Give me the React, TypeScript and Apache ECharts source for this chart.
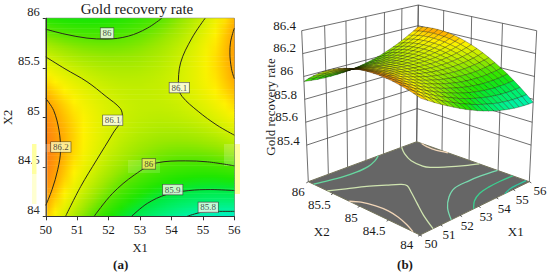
import React, { useEffect, useRef } from "react";
import * as echarts from "echarts";

const FONT = '"Liberation Serif", serif';

const titleText = "Gold recovery rate";
const x1Ticks = [50, 51, 52, 53, 54, 55, 56];
const x2Ticks = [84, 84.5, 85, 85.5, 86];
const zTicks = [85.4, 85.6, 85.8, 86, 86.2, 86.4];

// response grid, x1 = 50..56 (step 0.3) across, x2 = 86..84 (step 0.1) down
const x1Grid = [50, 50.3, 50.6, 50.9, 51.2, 51.5, 51.8, 52.1, 52.4, 52.7, 53, 53.3, 53.6, 53.9, 54.2, 54.5, 54.8, 55.1, 55.4, 55.7, 56];
const x2Grid = [86, 85.9, 85.8, 85.7, 85.6, 85.5, 85.4, 85.3, 85.2, 85.1, 85, 84.9, 84.8, 84.7, 84.6, 84.5, 84.4, 84.3, 84.2, 84.1, 84];
const zRows = [
  [85.956, 85.949, 85.943, 85.94, 85.939, 85.94, 85.942, 85.947, 85.954, 85.962, 85.973, 85.986, 86.0, 86.017, 86.036, 86.057, 86.079, 86.104, 86.131, 86.159, 86.19],
  [85.998, 85.989, 85.982, 85.977, 85.974, 85.973, 85.974, 85.977, 85.982, 85.99, 85.999, 86.01, 86.023, 86.038, 86.055, 86.074, 86.095, 86.118, 86.143, 86.171, 86.2],
  [86.036, 86.026, 86.017, 86.011, 86.006, 86.004, 86.003, 86.005, 86.008, 86.014, 86.021, 86.031, 86.042, 86.056, 86.071, 86.089, 86.108, 86.13, 86.153, 86.179, 86.206],
  [86.071, 86.059, 86.049, 86.041, 86.035, 86.031, 86.029, 86.029, 86.03, 86.034, 86.04, 86.048, 86.058, 86.07, 86.084, 86.1, 86.118, 86.138, 86.159, 86.183, 86.209],
  [86.103, 86.09, 86.078, 86.068, 86.06, 86.055, 86.051, 86.049, 86.05, 86.052, 86.056, 86.063, 86.071, 86.081, 86.093, 86.108, 86.124, 86.142, 86.163, 86.185, 86.209],
  [86.132, 86.117, 86.103, 86.092, 86.083, 86.076, 86.07, 86.067, 86.066, 86.066, 86.069, 86.074, 86.08, 86.089, 86.1, 86.113, 86.127, 86.144, 86.163, 86.183, 86.206],
  [86.158, 86.141, 86.126, 86.113, 86.102, 86.093, 86.086, 86.081, 86.078, 86.078, 86.079, 86.082, 86.087, 86.094, 86.103, 86.114, 86.127, 86.142, 86.159, 86.179, 86.2],
  [86.18, 86.162, 86.145, 86.131, 86.118, 86.108, 86.099, 86.093, 86.088, 86.086, 86.085, 86.087, 86.09, 86.096, 86.103, 86.113, 86.124, 86.138, 86.153, 86.171, 86.19],
  [86.199, 86.179, 86.161, 86.145, 86.131, 86.119, 86.109, 86.101, 86.094, 86.09, 86.088, 86.088, 86.09, 86.094, 86.1, 86.108, 86.118, 86.13, 86.143, 86.159, 86.177],
  [86.215, 86.194, 86.174, 86.156, 86.14, 86.127, 86.115, 86.105, 86.098, 86.092, 86.088, 86.087, 86.087, 86.089, 86.093, 86.1, 86.108, 86.118, 86.131, 86.145, 86.161],
  [86.228, 86.205, 86.183, 86.164, 86.147, 86.132, 86.118, 86.107, 86.098, 86.09, 86.085, 86.082, 86.08, 86.081, 86.084, 86.089, 86.095, 86.104, 86.115, 86.127, 86.142],
  [86.238, 86.213, 86.19, 86.169, 86.15, 86.133, 86.118, 86.105, 86.094, 86.086, 86.079, 86.074, 86.071, 86.07, 86.071, 86.074, 86.079, 86.086, 86.095, 86.107, 86.12],
  [86.244, 86.218, 86.193, 86.171, 86.15, 86.132, 86.115, 86.101, 86.088, 86.078, 86.069, 86.063, 86.058, 86.056, 86.055, 86.057, 86.06, 86.066, 86.073, 86.083, 86.094],
  [86.247, 86.219, 86.193, 86.169, 86.147, 86.127, 86.109, 86.093, 86.078, 86.066, 86.056, 86.048, 86.042, 86.038, 86.036, 86.036, 86.038, 86.042, 86.047, 86.055, 86.065],
  [86.247, 86.218, 86.19, 86.164, 86.14, 86.119, 86.099, 86.081, 86.066, 86.052, 86.04, 86.031, 86.023, 86.017, 86.013, 86.012, 86.012, 86.014, 86.019, 86.025, 86.033],
  [86.244, 86.213, 86.183, 86.156, 86.131, 86.108, 86.086, 86.067, 86.05, 86.034, 86.021, 86.01, 86.0, 85.993, 85.988, 85.985, 85.983, 85.984, 85.987, 85.991, 85.998],
  [86.238, 86.205, 86.174, 86.145, 86.118, 86.093, 86.07, 86.049, 86.03, 86.014, 85.999, 85.986, 85.975, 85.966, 85.959, 85.954, 85.951, 85.95, 85.951, 85.955, 85.96],
  [86.228, 86.194, 86.161, 86.131, 86.102, 86.076, 86.051, 86.029, 86.008, 85.99, 85.973, 85.959, 85.946, 85.936, 85.927, 85.921, 85.916, 85.914, 85.913, 85.915, 85.918],
  [86.215, 86.179, 86.145, 86.113, 86.083, 86.055, 86.029, 86.005, 85.982, 85.962, 85.944, 85.928, 85.914, 85.902, 85.892, 85.884, 85.878, 85.874, 85.871, 85.871, 85.873],
  [86.199, 86.162, 86.126, 86.092, 86.06, 86.031, 86.003, 85.977, 85.954, 85.932, 85.912, 85.895, 85.879, 85.865, 85.853, 85.844, 85.836, 85.83, 85.827, 85.825, 85.825],
  [86.18, 86.141, 86.103, 86.068, 86.035, 86.004, 85.974, 85.947, 85.922, 85.898, 85.877, 85.858, 85.84, 85.825, 85.812, 85.801, 85.791, 85.784, 85.779, 85.775, 85.774],
];

// colour ramp, equally spaced from 85.70 to 86.30
const rampMin = 85.7;
const rampMax = 86.3;
const ramp = ["#00e8ff", "#00f0e0", "#00f2a8", "#00f070", "#00ea40", "#1ee600", "#50e600", "#9ae800", "#d0f000", "#fff200", "#ffa800", "#ff7a14", "#ff6a1a"];

// contour lines: [x1, x2]
const c862L = [[50, 85.19], [50.25, 85.07], [50.42, 84.87], [50.47, 84.67], [50.38, 84.47], [50.2, 84.27], [50, 84.11]];
const c861L = [[50, 85.61], [50.61, 85.49], [51.31, 85.36], [51.92, 85.21], [52.37, 85.09], [52.44, 85.01], [52.14, 84.84], [51.62, 84.57], [51.11, 84.3], [50.63, 84]];
const c86U = [[50, 85.89], [50.61, 85.84], [51.31, 85.8], [51.92, 85.79], [52.63, 85.82], [53.23, 85.9], [53.69, 86]];
const c861R = [[55.07, 86], [54.65, 85.8], [54.29, 85.55], [54.22, 85.31], [54.34, 85.21], [54.85, 85.06], [55.45, 84.92], [56, 84.82]];
const c862R = [[56, 85.9], [55.88, 85.76], [55.86, 85.65], [55.91, 85.49], [56, 85.39]];
const c86D = [[51.54, 84], [52.12, 84.23], [52.83, 84.42], [53.54, 84.54], [54.44, 84.56], [55.15, 84.55], [56, 84.51]];
const c859 = [[52.73, 84], [53.23, 84.13], [53.84, 84.22], [54.55, 84.26], [55.25, 84.27], [56, 84.26]];
const c858 = [[54.5, 84], [54.95, 84.04], [55.45, 84.05], [56, 84.05]];
const contours = [
  { pts: c862L, floor: "#f2d6b8" },
  { pts: c861L, floor: "#cfe4b0" },
  { pts: c86U, floor: "#66d8a0" },
  { pts: c861R, floor: "#cfe4b0" },
  { pts: c862R, floor: "#f2d6b8" },
  { pts: c86D, floor: "#78dcb0" },
  { pts: c859, floor: "#3cd090" },
  { pts: c858, floor: "#30c8a0" },
];
const contourLabels = [
  [51.95, 85.85, "86", "#ffffff"],
  [54.25, 85.3, "86.1", "#ffffff"],
  [52.13, 84.97, "86.1", "#ffffff"],
  [50.48, 84.7, "86.2", "#fff8b0"],
  [53.28, 84.53, "86", "#f4f060"],
  [54.04, 84.27, "85.9", "#f4fff0"],
  [55.17, 84.09, "85.8", "#f4fff0"],
];

// perspective box of the right panel, in chart pixels
const floorZ = 85.08;
const topZ = 86.4;
const floorCorners = [[420, 235], [529.3, 181.7], [416.7, 141.7], [308.3, 181.7]];
const topCorners = [[421, 71], [536.7, 30.7], [418.3, 5], [301.7, 30.7]];

function homography(q: number[][]) {
  const [[x0, y0], [x1, y1], [x2, y2], [x3, y3]] = q;
  const dx1 = x1 - x2, dx2 = x3 - x2, sx = x0 - x1 + x2 - x3;
  const dy1 = y1 - y2, dy2 = y3 - y2, sy = y0 - y1 + y2 - y3;
  const den = dx1 * dy2 - dx2 * dy1;
  const g = (sx * dy2 - dx2 * sy) / den;
  const h = (dx1 * sy - sx * dy1) / den;
  return (u: number, v: number) => {
    const w = g * u + h * v + 1;
    return [
      ((x1 - x0 + g * x1) * u + (x3 - x0 + h * x3) * v + x0) / w,
      ((y1 - y0 + g * y1) * u + (y3 - y0 + h * y3) * v + y0) / w,
    ];
  };
}
const floorH = homography(floorCorners);
const topH = homography(topCorners);
function project(x1: number, x2: number, z: number) {
  const u = (x1 - 50) / 6;
  const v = (x2 - 84) / 2;
  const a = floorH(u, v);
  const b = topH(u, v);
  const t = (z - floorZ) / (topZ - floorZ);
  return [a[0] + (b[0] - a[0]) * t, a[1] + (b[1] - a[1]) * t];
}

function colorAt(z: number) {
  const t = Math.max(0, Math.min(1, (z - rampMin) / (rampMax - rampMin)));
  return echarts.color.lerp(t, ramp) as string;
}

const BANDS = 6;
function renderHeat(params: any, api: any) {
  const r = params.dataIndex;
  const children: any[] = [];
  const n = x1Grid.length - 1;
  const xa = api.coord([x1Grid[0], 85])[0];
  const xb = api.coord([x1Grid[n], 85])[0];
  for (let b = 0; b < BANDS; b++) {
    const t = (b + 0.5) / BANDS;
    const ya = api.coord([50, x2Grid[r] + (x2Grid[r + 1] - x2Grid[r]) * (b / BANDS)])[1];
    const yb = api.coord([50, x2Grid[r] + (x2Grid[r + 1] - x2Grid[r]) * ((b + 1) / BANDS)])[1];
    const colorStops = x1Grid.map((_, i) => ({
      offset: i / n,
      color: colorAt(zRows[r][i] + (zRows[r + 1][i] - zRows[r][i]) * t),
    }));
    const last = r === x2Grid.length - 2 && b === BANDS - 1;
    children.push({
      type: "rect",
      shape: { x: xa, y: ya, width: xb - xa, height: yb - ya + (last ? 0 : 0.6) },
      style: { fill: { type: "linear", x: 0, y: 0, x2: 1, y2: 0, colorStops } },
    });
  }
  return { type: "group", children };
}

function renderBox(_: any, api: any) {
  const c = (p: number[]) => api.coord(p);
  const stroke = { stroke: "#4a4a4a", lineWidth: 0.8 };
  const children: any[] = [];
  const seg = (a: number[], b: number[], s = stroke) => {
    const pa = c(a), pb = c(b);
    children.push({ type: "line", shape: { x1: pa[0], y1: pa[1], x2: pb[0], y2: pb[1] }, style: s });
  };
  x1Ticks.forEach((v) => seg(project(v, 86, floorZ), project(v, 86, topZ)));
  x2Ticks.forEach((v) => seg(project(56, v, floorZ), project(56, v, topZ)));
  zTicks.forEach((z) => {
    seg(project(50, 86, z), project(56, 86, z));
    seg(project(56, 86, z), project(56, 84, z));
  });
  const floorPts = [[50, 84], [56, 84], [56, 86], [50, 86]].map((p) => c(project(p[0], p[1], floorZ)));
  children.push({
    type: "polygon",
    shape: { points: floorPts },
    style: { fill: "#666666", stroke: "#74745a", lineWidth: 1 },
  });
  contours.forEach((ct) => {
    children.push({
      type: "polyline",
      shape: { points: ct.pts.map((p) => c(project(p[0], p[1], floorZ))), smooth: 0.35 },
      style: { fill: "none", stroke: ct.floor, lineWidth: 1.3 },
    });
  });
  // small ticks on the two front edges
  const tickStyle = { stroke: "#333333", lineWidth: 0.8 };
  x1Ticks.forEach((v) => {
    const p = project(v, 84, floorZ);
    seg(p, [p[0] + 2, p[1] + 1.2], tickStyle);
  });
  x2Ticks.forEach((v) => {
    const p = project(50, v, floorZ);
    seg(p, [p[0] - 2, p[1] + 1.2], tickStyle);
  });
  return { type: "group", children };
}

// quads, farthest first
const quads: number[][] = [];
for (let i = x1Grid.length - 2; i >= 0; i--) {
  for (let r = 0; r < x2Grid.length - 1; r++) quads.push([i, r]);
}
function renderQuad(params: any, api: any) {
  const [i, r] = quads[params.dataIndex];
  const corners = [[i, r], [i + 1, r], [i + 1, r + 1], [i, r + 1]];
  const pts = corners.map(([a, b]) => api.coord(project(x1Grid[a], x2Grid[b], zRows[b][a])));
  const mean = corners.reduce((s, [a, b]) => s + zRows[b][a], 0) / 4;
  return {
    type: "polygon",
    shape: { points: pts },
    style: { fill: colorAt(mean), stroke: "rgba(20,20,0,0.6)", lineWidth: 0.5 },
  };
}

const zLabelPos = [[288.3, 140], [286.7, 116.7], [285.7, 94], [286.7, 70], [284.7, 47.3], [284.7, 25]];
const x2LabelPos = [[406.7, 244], [374, 230.7], [351.3, 217.3], [319.3, 204.3], [298.3, 191]];
const x1LabelPos = [[431, 243.3], [449, 234.3], [467.3, 225.7], [486, 216.7], [504.3, 208], [522.3, 199.3], [540, 190.3]];

function text(str: string, x: number, y: number, extra: any = {}) {
  return {
    type: "text",
    x,
    y,
    z: 20,
    rotation: extra.rotation || 0,
    style: {
      text: str,
      fill: "#1a1a1a",
      font: `${extra.weight || "normal"} ${extra.size || 12.5}px ${FONT}`,
      textAlign: "center",
      textVerticalAlign: "middle",
    },
  };
}

function patch(x: number, y: number, w: number, h: number, fill: string) {
  return { type: "rect", z: 1, silent: true, shape: { x, y, width: w, height: h }, style: { fill } };
}

function App() {
  const ref = useRef<HTMLDivElement>(null);
  useEffect(() => {
    document.body.style.margin = "0";
    const chart = echarts.init(ref.current!, undefined, { renderer: "svg" });
    const lines = contours.map((ct) => ({
      type: "line",
      xAxisIndex: 0,
      yAxisIndex: 0,
      data: ct.pts,
      showSymbol: false,
      symbol: "none",
      smooth: 0.35,
      z: 3,
      lineStyle: { color: "#2a2a1a", width: 1 },
      silent: true,
    }));
    chart.setOption({
      animation: false,
      backgroundColor: "#ffffff",
      textStyle: { fontFamily: FONT },
      title: {
        text: titleText,
        left: 137,
        top: 1,
        padding: 0,
        textAlign: "center",
        textStyle: { fontFamily: FONT, fontWeight: "normal", fontSize: 15, color: "#1a1a1a" },
      },
      grid: [
        { left: 36.5, top: 18.3, width: 197.8, height: 198, show: true, borderColor: "#444444", borderWidth: 0.8, backgroundColor: "transparent" },
        { left: 270, top: 0, width: 280, height: 274 },
      ],
      xAxis: [
        {
          type: "value", gridIndex: 0, min: 50, max: 56, interval: 1,
          name: "X1", nameLocation: "middle", nameGap: 22,
          nameTextStyle: { fontFamily: FONT, fontSize: 12.5, color: "#1a1a1a" },
          axisLine: { lineStyle: { color: "#333333" } },
          axisTick: { length: 4, lineStyle: { color: "#333333" } },
          axisLabel: { fontFamily: FONT, fontSize: 12.5, color: "#1a1a1a", margin: 7 },
          splitLine: { show: false },
        },
        { type: "value", gridIndex: 1, min: 270, max: 550, show: false },
      ],
      yAxis: [
        {
          type: "value", gridIndex: 0, min: 84, max: 86, interval: 0.5,
          name: "X2", nameLocation: "middle", nameGap: 23,
          nameTextStyle: { fontFamily: FONT, fontSize: 12.5, color: "#1a1a1a" },
          axisLine: { lineStyle: { color: "#333333" } },
          axisTick: { length: 3, lineStyle: { color: "#333333" } },
          axisLabel: { fontFamily: FONT, fontSize: 12.5, color: "#1a1a1a", margin: 6, verticalAlign: "bottom" },
          splitLine: { show: false },
        },
        { type: "value", gridIndex: 1, min: 0, max: 274, inverse: true, show: false },
      ],
      graphic: { elements: [
        patch(32, 144, 4.5, 30, "#ffffa0"),
        patch(32, 174, 4.5, 30, "#ffffd0"),
        patch(235, 144, 5, 50, "#ffffa0"),
        patch(37, 152, 11, 64, "rgba(255,255,255,0.16)"),
        patch(37, 144, 26, 8, "rgba(255,255,255,0.25)"),
        patch(224, 144, 10, 22, "rgba(255,255,255,0.18)"),
        patch(128, 160, 32, 13, "rgba(255,255,255,0.14)"),
        ...zTicks.map((v, i) => text(String(v), zLabelPos[i][0], zLabelPos[i][1], { size: 13 })),
        ...x2Ticks.map((v, i) => text(String(v), x2LabelPos[i][0], x2LabelPos[i][1], { size: 13 })),
        ...x1Ticks.map((v, i) => text(String(v), x1LabelPos[i][0], x1LabelPos[i][1], { size: 13 })),
        text("X2", 321.7, 231.7, { size: 13 }),
        text("X1", 515.7, 231.7, { size: 13 }),
        text("Gold recovery rate", 270, 107, { size: 13, rotation: Math.PI / 2 }),
        text("(a)", 120.7, 264, { size: 13, weight: "bold" }),
        text("(b)", 405, 264, { size: 13, weight: "bold" }),
      ] },
      series: [
        { type: "custom", xAxisIndex: 0, yAxisIndex: 0, z: 0, silent: true, renderItem: renderHeat, data: zRows.slice(0, -1).map((_, r) => [50, x2Grid[r]]) },
        ...lines,
        {
          type: "scatter", xAxisIndex: 0, yAxisIndex: 0, z: 5, symbolSize: 0, silent: true,
          data: contourLabels.map((l) => ({
            value: [l[0], l[1]],
            label: {
              show: true, position: "inside", formatter: String(l[2]), fontFamily: FONT, fontSize: 9, color: "#222222",
              backgroundColor: l[3], borderColor: "#333333", borderWidth: 0.6, padding: [1, 2, 0, 2],
            },
          })),
        },
        { type: "custom", xAxisIndex: 1, yAxisIndex: 1, z: 2, silent: true, renderItem: renderBox, data: [[270, 0]] },
        { type: "custom", xAxisIndex: 1, yAxisIndex: 1, z: 3, silent: true, renderItem: renderQuad, data: quads },
      ],
    });
    return () => chart.dispose();
  }, []);
  return <div ref={ref} style={{ width: 550, height: 274 }} />;
}

export default App;
